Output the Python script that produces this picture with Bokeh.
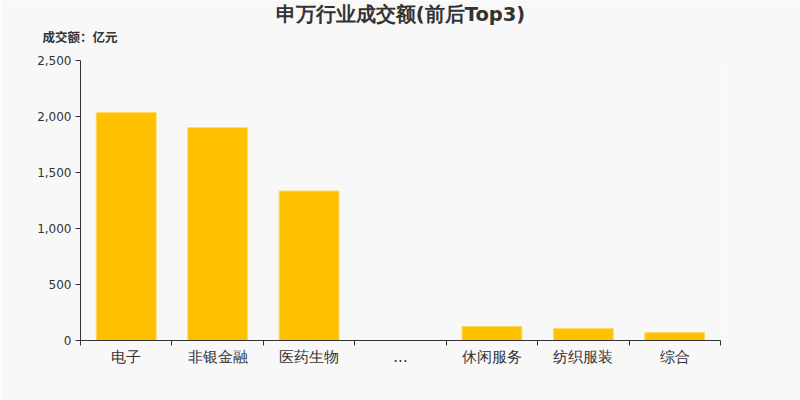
from bokeh.plotting import figure
from bokeh.models import Range1d, FixedTicker, NumeralTickFormatter, Title, ColumnDataSource
from bokeh.embed import file_html
from bokeh.resources import INLINE

title_text = "申万行业成交额(前后Top3)"
unit_text = "成交额：亿元"
categories = ["电子", "非银金融", "医药生物", "...", "休闲服务", "纺织服装", "综合"]
values = [2035, 1900, 1335, 0, 125, 107, 71]
y_ticks = [0, 500, 1000, 1500, 2000, 2500]

n = len(categories)
centers = [i + 0.5 for i in range(n)]
src = ColumnDataSource(dict(x=centers, top=values))

p = figure(width=800, height=400, output_backend="svg", toolbar_location=None,
           x_range=Range1d(0, n), y_range=Range1d(0, 2500),
           min_border_left=80, min_border_right=80, min_border_top=60, min_border_bottom=60)
p.background_fill_color = "#f8f8f8"
p.border_fill_color = "#f8f8f8"
p.outline_line_color = None
p.xgrid.visible = False
p.ygrid.visible = False

p.vbar(x="x", top="top", width=0.655, source=src, fill_color="#FFC000",
       line_color="#FFD966", line_width=1)

# x axis
p.xaxis.ticker = FixedTicker(ticks=centers, minor_ticks=list(range(n + 1)))
p.xaxis.major_label_overrides = {c: lab for c, lab in zip(centers, categories)}
p.xaxis.major_tick_out = 0
p.xaxis.major_tick_in = 0
p.xaxis.minor_tick_out = 5
p.xaxis.minor_tick_in = 0
p.xaxis.minor_tick_line_color = "#333333"
p.xaxis.axis_line_color = "#333333"
p.xaxis.major_label_text_font_size = "15px"
p.xaxis.major_label_text_color = "#333333"
p.xaxis.major_label_text_font = "DejaVu Sans"
p.xaxis.major_label_standoff = 2

# y axis
p.yaxis.ticker = FixedTicker(ticks=y_ticks)
p.yaxis.formatter = NumeralTickFormatter(format="0,0")
p.yaxis.minor_tick_line_color = None
p.yaxis.major_tick_out = 5
p.yaxis.major_tick_in = 0
p.yaxis.major_tick_line_color = "#333333"
p.yaxis.axis_line_color = "#333333"
p.yaxis.major_label_text_font_size = "12px"
p.yaxis.major_label_text_color = "#333333"
p.yaxis.major_label_text_font = "DejaVu Sans"
p.yaxis.major_label_standoff = 4

# main title is outermost; unit label sits between it and the frame
p.title.text = title_text
p.title.align = "center"
p.title.standoff = -30
p.title.text_font_size = "19.5px"
p.title.text_font_style = "bold"
p.title.text_color = "#333333"
p.title.text_font = "DejaVu Sans"

p.add_layout(Title(text=unit_text, align="left", offset=-38, text_font_size="12.5px",
                   text_font_style="bold", text_color="#333333",
                   text_font="Noto Sans CJK SC", standoff=29), "above")

open("out.html", "w").write(file_html(p, INLINE))
